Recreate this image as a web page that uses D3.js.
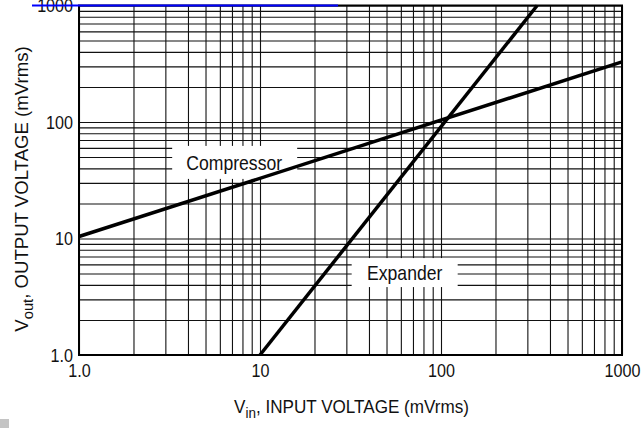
<!DOCTYPE html>
<meta charset="utf-8">
<head>
    <script src="https://d3js.org/d3.v7.min.js"></script>
    <title>Compressor / Expander transfer</title>
</head>
<body>
    <div id="viz"></div>
</body>
<style>
    body {
        margin: 0;
        background: #fff;
        font-family: "Liberation Sans", Arial, sans-serif;
    }
    text { fill: #111; }
</style>
<script>
    // data (mVrms, log-log)
    var xTicks = [1, 10, 100, 1000];
    var xTickLabels = ["1.0", "10", "100", "1000"];
    var yTicks = [1, 10, 100, 1000];
    var yTickLabels = ["1.0", "10", "100", "1000"];

    var compressorVin = [1, 1000];
    var compressorVout = [10.4, 328];
    var expanderVin = [10, 340];
    var expanderVout = [1.0, 1000];

    var labelNames = ["Compressor", "Expander"];
    var labelVin = [7.2, 63];
    var labelVout = [45, 5.1];

    // stray blue line over the top label
    var blueVin = [0.55, 27];
    var blueVout = [1000, 1000];

    // set the dimensions of the graph
    var W = 642, H = 428;
    var m = { left: 79, right: 622, top: 5.5, bottom: 355 };

    var svg = d3.select("#viz")
        .append("svg")
        .attr("width", W)
        .attr("height", H);

    var x = d3.scaleLog().domain([1, 1000]).range([m.left, m.right]);
    var y = d3.scaleLog().domain([1, 1000]).range([m.bottom, m.top]);

    // every 1..9 of each decade for the grid
    var gridVals = [];
    [1, 10, 100].forEach(function (d) {
        for (var k = 1; k < 10; k++) gridVals.push(d * k);
    });
    gridVals.push(1000);

    // vertical grid
    svg.append("g")
        .attr("transform", "translate(0," + m.bottom + ")")
        .call(d3.axisBottom(x).tickValues(gridVals).tickSize(-(m.bottom - m.top)).tickFormat(""))
        .call(function (g) { g.select(".domain").remove(); })
        .selectAll(".tick line")
        .attr("stroke", "#111")
        .attr("stroke-width", 1.1);

    // horizontal grid
    svg.append("g")
        .attr("transform", "translate(" + m.left + ",0)")
        .call(d3.axisLeft(y).tickValues(gridVals).tickSize(-(m.right - m.left)).tickFormat(""))
        .call(function (g) { g.select(".domain").remove(); })
        .selectAll(".tick line")
        .attr("stroke", "#111")
        .attr("stroke-width", 1.1);

    // frame
    svg.append("rect")
        .attr("x", x(1))
        .attr("y", y(1000))
        .attr("width", x(1000) - x(1))
        .attr("height", y(1) - y(1000))
        .attr("fill", "none")
        .attr("stroke", "#000")
        .attr("stroke-width", 2);

    // x tick labels
    var xa = svg.append("g")
        .attr("transform", "translate(0," + m.bottom + ")")
        .call(d3.axisBottom(x).tickValues(xTicks).tickSize(0).tickPadding(9)
            .tickFormat(function (d, i) { return xTickLabels[i]; }));
    xa.select(".domain").remove();
    xa.selectAll("text")
        .style("font-size", "19px")
        .attr("font-family", null)
        .attr("transform", "scale(0.85,1)");

    // y tick labels
    var ya = svg.append("g")
        .attr("transform", "translate(" + m.left + ",0)")
        .call(d3.axisLeft(y).tickValues(yTicks).tickSize(0).tickPadding(7)
            .tickFormat(function (d, i) { return yTickLabels[i]; }));
    ya.select(".domain").remove();
    ya.selectAll("text")
        .style("font-size", "19px")
        .attr("font-family", null)
        .attr("transform", "scale(0.85,1)");

    // curve labels: white boxes under the curves, text on top
    var lab = svg.selectAll(".curveLabel")
        .data(labelNames)
        .enter()
        .append("g")
        .attr("class", "curveLabel")
        .attr("transform", function (d, i) {
            return "translate(" + x(labelVin[i]) + "," + y(labelVout[i]) + ")";
        });
    lab.append("rect")
        .attr("x", function (d, i) { return i === 0 ? -62 : -53; })
        .attr("y", function (d, i) { return i === 0 ? -16.5 : -14.5; })
        .attr("width", function (d, i) { return i === 0 ? 125 : 106; })
        .attr("height", function (d, i) { return i === 0 ? 33 : 29; })
        .attr("fill", "#fff");

    var line = d3.line()
        .x(function (d) { return x(d[0]); })
        .y(function (d) { return y(d[1]); });

    svg.append("path")
        .datum(d3.zip(compressorVin, compressorVout))
        .attr("d", line)
        .attr("fill", "none")
        .attr("stroke", "#000")
        .attr("stroke-width", 3.5);

    svg.append("path")
        .datum(d3.zip(expanderVin, expanderVout))
        .attr("d", line)
        .attr("fill", "none")
        .attr("stroke", "#000")
        .attr("stroke-width", 3.5);

    svg.selectAll(".curveText")
        .data(labelNames)
        .enter()
        .append("text")
        .attr("class", "curveText")
        .attr("text-anchor", "middle")
        .attr("dy", "0.36em")
        .attr("transform", function (d, i) {
            return "translate(" + x(labelVin[i]) + "," + y(labelVout[i]) + ") scale(0.88,1)";
        })
        .style("font-size", "20px")
        .text(function (d) { return d; });

    // blue line
    svg.append("path")
        .datum(d3.zip(blueVin, blueVout))
        .attr("d", line)
        .attr("stroke", "#0000ff")
        .attr("stroke-width", 2.2);

    // x title
    var xt = svg.append("text")
        .attr("transform", "translate(" + (233 + 470) / 2 + ",413) scale(0.9,1)")
        .attr("text-anchor", "middle")
        .style("font-size", "19px");
    xt.append("tspan").text("V");
    xt.append("tspan").attr("dy", 5).style("font-size", "15px").text("in");
    xt.append("tspan").attr("dy", -5).text(", INPUT VOLTAGE (mVrms)");

    // y title
    var yt = svg.append("text")
        .attr("transform", "translate(28," + (45 + 333) / 2 + ") rotate(-90) scale(0.98,1)")
        .attr("text-anchor", "middle")
        .style("font-size", "19px");
    yt.append("tspan").text("V");
    yt.append("tspan").attr("dy", 5).style("font-size", "15px").text("out");
    yt.append("tspan").attr("dy", -5).text(", OUTPUT VOLTAGE (mVrms)");

    // small grey square bottom-left
    svg.append("rect")
        .attr("x", 0)
        .attr("y", 419)
        .attr("width", 9)
        .attr("height", 9)
        .attr("fill", "#c4c4c4");
</script>
